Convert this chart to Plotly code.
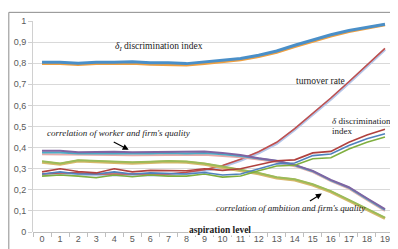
import plotly.graph_objects as go

categories = list(range(20))
x_labels = [str(c) for c in categories]
y_ticks = [0, 0.1, 0.2, 0.3, 0.4, 0.5, 0.6, 0.7, 0.8, 0.9, 1.0]
y_labels = ["0", "0,1", "0,2", "0,3", "0,4", "0,5", "0,6", "0,7", "0,8", "0,9", "1"]

# delta_I discrimination index
dI_blue = [0.805, 0.805, 0.800, 0.805, 0.805, 0.807, 0.802, 0.802, 0.798, 0.805,
           0.812, 0.822, 0.838, 0.858, 0.885, 0.910, 0.935, 0.955, 0.970, 0.985]
dI_orange = [0.798, 0.798, 0.794, 0.799, 0.799, 0.800, 0.795, 0.795, 0.792, 0.799,
             0.806, 0.816, 0.832, 0.852, 0.879, 0.904, 0.929, 0.950, 0.966, 0.982]

# turnover rate
turn_red = [0.275, 0.280, 0.280, 0.275, 0.275, 0.275, 0.275, 0.275, 0.283, 0.295,
            0.315, 0.345, 0.380, 0.425, 0.490, 0.562, 0.635, 0.712, 0.790, 0.870]
turn_lav = [0.270, 0.275, 0.275, 0.270, 0.270, 0.270, 0.270, 0.270, 0.278, 0.290,
            0.310, 0.340, 0.375, 0.420, 0.485, 0.557, 0.630, 0.707, 0.785, 0.865]

# delta discrimination index
d_red = [0.285, 0.300, 0.287, 0.280, 0.300, 0.285, 0.292, 0.292, 0.290, 0.300,
         0.292, 0.300, 0.318, 0.338, 0.342, 0.375, 0.382, 0.425, 0.460, 0.487]
d_blue = [0.275, 0.285, 0.275, 0.275, 0.285, 0.275, 0.280, 0.278, 0.275, 0.282,
          0.270, 0.275, 0.300, 0.323, 0.327, 0.362, 0.370, 0.410, 0.442, 0.466]
d_green = [0.265, 0.270, 0.265, 0.257, 0.270, 0.262, 0.270, 0.265, 0.265, 0.275,
           0.260, 0.265, 0.290, 0.313, 0.316, 0.347, 0.352, 0.393, 0.425, 0.450]

# correlation of worker and firm's quality
w_purple = [0.385, 0.385, 0.378, 0.380, 0.380, 0.378, 0.378, 0.381, 0.378, 0.381,
            0.375, 0.365, 0.350, 0.338, 0.318, 0.290, 0.247, 0.212, 0.160, 0.108]
w_teal = [0.377, 0.377, 0.372, 0.373, 0.373, 0.372, 0.372, 0.375, 0.372, 0.375,
          0.368, 0.360, 0.348, 0.336, 0.316, 0.288, 0.245, 0.210, 0.157, 0.105]
w_pink = [0.368, 0.368, 0.365, 0.365, 0.365, 0.364, 0.364, 0.366, 0.364, 0.366,
          0.360, 0.354, 0.344, 0.332, 0.312, 0.284, 0.241, 0.206, 0.152, 0.100]

# correlation of ambition and firm's quality
a_green = [0.335, 0.325, 0.340, 0.336, 0.334, 0.330, 0.333, 0.337, 0.334, 0.325,
           0.310, 0.296, 0.280, 0.260, 0.250, 0.226, 0.194, 0.152, 0.110, 0.068]
a_light = [0.331, 0.321, 0.336, 0.332, 0.330, 0.326, 0.329, 0.333, 0.330, 0.321,
           0.306, 0.292, 0.276, 0.256, 0.246, 0.222, 0.190, 0.148, 0.106, 0.064]

series = [
    (dI_orange, "#F0A040", 3),
    (dI_blue, "#4A8FC8", 3),
    (turn_lav, "#B4C6EA", 3),
    (turn_red, "#C0504D", 1.6),
    (w_pink, "#E6A9A8", 2),
    (w_teal, "#4BACC6", 2),
    (w_purple, "#8064A2", 2),
    (a_light, "#D6B86A", 3),
    (a_green, "#9BBB59", 2),
    (d_green, "#7FAF3F", 1.6),
    (d_blue, "#4F81BD", 1.6),
    (d_red, "#B0403D", 1.6),
]

fig = go.Figure()
for vals, col, w in series:
    fig.add_trace(go.Scatter(x=categories, y=vals, mode="lines",
                             line=dict(color=col, width=w), hoverinfo="skip",
                             showlegend=False))

serif = "Liberation Serif"
ann = [
    dict(x=6.5, y=0.877, text="<i>δ<sub>I</sub></i> discrimination index", size=9.5, xanchor="center"),
    dict(x=15.4, y=0.716, text="turnover rate", size=9.5, xanchor="center"),
    dict(x=15.95, y=0.526, text="<i>δ</i> discrimination", size=9, xanchor="left"),
    dict(x=15.95, y=0.479, text="index", size=9, xanchor="left"),
    dict(x=4.25, y=0.469, text="<i>correlation of worker and firm's quality</i>", size=9, xanchor="center"),
    dict(x=13.74, y=0.114, text="<i>correlation of ambition and firm's quality</i>", size=9, xanchor="center"),
]
for a in ann:
    fig.add_annotation(x=a["x"], y=a["y"], text=a["text"], showarrow=False,
                       xanchor=a["xanchor"], yanchor="middle",
                       font=dict(family=serif, size=a["size"], color="#1a1a1a"))

fig.add_annotation(x=9.87, y=0.008, text="<b>aspiration level</b>", showarrow=False,
                   xanchor="center", yanchor="middle", bgcolor="white", borderpad=0,
                   font=dict(family=serif, size=9.5, color="#1a1a1a"))

# arrows
fig.add_annotation(x=4.8, y=0.39, ax=3.89, ay=0.43, xref="x", yref="y",
                   axref="x", ayref="y", showarrow=True, arrowhead=2, arrowsize=1,
                   arrowwidth=1.2, arrowcolor="black", text=" ", font=dict(size=1))
fig.add_annotation(x=15.5, y=0.182, ax=14.76, ay=0.142, xref="x", yref="y",
                   axref="x", ayref="y", showarrow=True, arrowhead=2, arrowsize=1,
                   arrowwidth=1.2, arrowcolor="black", text=" ", font=dict(size=1))

# chart border (Excel style)
fig.add_shape(type="rect", xref="paper", yref="paper", x0=-0.067, x1=1.2,
              y0=-0.3, y1=1.041, line=dict(color="#8c8c8c", width=1),
              fillcolor="rgba(0,0,0,0)", layer="below")

# page body has an 8px default margin, so the figure is 8px smaller
fig.update_layout(
    width=390, height=241,
    margin=dict(l=25, r=4, t=13, b=17, autoexpand=False),
    paper_bgcolor="white", plot_bgcolor="white",
    showlegend=False,
)
fig.update_xaxes(
    automargin=False,
    range=[-0.5, 19.5], tickmode="array", tickvals=categories, ticktext=x_labels,
    ticks="", showgrid=False, zeroline=False, showline=False,
    tickfont=dict(family="Liberation Sans", size=9, color="#595959"),
    minor=dict(tickvals=[c - 0.5 for c in categories] + [19.5], ticks="outside",
               ticklen=4, tickcolor="#bfbfbf", showgrid=False),
)
fig.update_yaxes(
    automargin=False,
    range=[0, 1], tickmode="array", tickvals=y_ticks, ticktext=y_labels,
    ticks="outside", ticklen=4, tickcolor="#d0d0d0",
    showgrid=True, gridcolor="#d9d9d9", gridwidth=1,
    zeroline=True, zerolinecolor="#bfbfbf", zerolinewidth=1,
    showline=True, linecolor="#d0d0d0", linewidth=1,
    tickfont=dict(family="Liberation Sans", size=9, color="#595959"),
)

fig.write_html("out.html")
